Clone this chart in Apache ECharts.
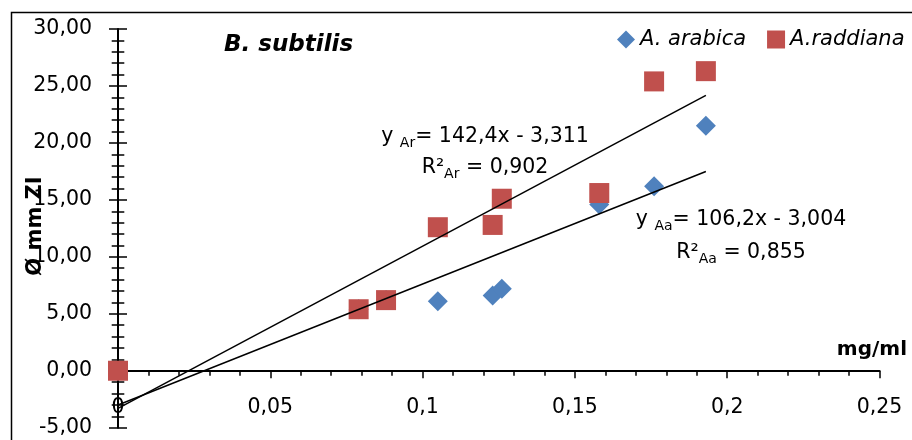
<!DOCTYPE html>
<html>
<head>
<meta charset="utf-8">
<script src="https://cdn.jsdelivr.net/npm/echarts@6/dist/echarts.min.js"></script>
<style>
  html, body { margin: 0; padding: 0; background: #fff; }
  #chart { width: 912px; height: 440px; }
</style>
</head>
<body>
<div id="chart"></div>
<script>
// Inhibition zone diameter (mm) against extract concentration (mg/ml)
const concentrations = [0, 0.079, 0.088, 0.105, 0.123, 0.126, 0.158, 0.176, 0.193];
const arabicaZones   = [0, 5.4, 6.2, 6.1, 6.6, 7.2, 14.6, 16.2, 21.5];
const raddianaZones  = [0, 5.4, 6.2, 12.6, 12.8, 15.1, 15.6, 25.4, 26.3];
const seriesNames    = ['A. arabica', 'A.raddiana'];

// Linear fits: A. arabica (Aa), A. raddiana (Ar)
const fitTags       = ['Aa', 'Ar'];
const fitSlopes     = [106.2, 142.4];
const fitIntercepts = [-3.004, -3.311];
const fitR2         = [0.855, 0.902];

const xTickLabels = ['0', '0,05', '0,1', '0,15', '0,2', '0,25'];
const yTickLabels = ['-5,00', '0,00', '5,00', '10,00', '15,00', '20,00', '25,00', '30,00'];

const FONT = 'DejaVu Sans';
const BLUE = '#4F81BD';
const RED = '#C0504D';

// Plot frame (px) and value ranges
const PLOT = { left: 118, right: 32.5, top: 29, bottom: 12.3 };
const X_RANGE = [0, 0.25];
const Y_RANGE = [-5, 30];
const CHART_H = 440;
// pixel row of y = 0, where the concentration axis sits
const zeroRow = PLOT.top + (Y_RANGE[1] / (Y_RANGE[1] - Y_RANGE[0])) * (CHART_H - PLOT.top - PLOT.bottom);

const num = v => String(v).replace('.', ',');

function fitLinePoints(i) {
  const x0 = Math.min(...concentrations);
  const x1 = Math.max(...concentrations);
  return [x0, x1].map(x => [x, fitSlopes[i] * x + fitIntercepts[i]]);
}
function equationText(i) {
  const b = fitIntercepts[i];
  const sign = b < 0 ? '-' : '+';
  return '{t|y }{s|' + fitTags[i] + '}{t|= ' + num(fitSlopes[i]) + 'x ' + sign + ' ' + num(Math.abs(b)) + '}';
}
function r2Text(i) {
  return '{t|R²}{s|' + fitTags[i] + '}{t| = ' + num(fitR2[i]) + '}';
}
const richStyles = {
  t: { fontSize: 20.5, lineHeight: 26, fontFamily: FONT, fill: '#000' },
  s: { fontSize: 14, lineHeight: 14, verticalAlign: 'bottom', fontFamily: FONT, fill: '#000' }
};
function annotation(text, x, y) {
  return {
    type: 'text', x: x, y: y, silent: true, z: 10,
    style: { text: text, rich: richStyles, align: 'center', verticalAlign: 'middle',
             textAlign: 'center', textVerticalAlign: 'middle', fill: '#000' }
  };
}

const tickLine = { color: '#000', width: 1.5 };

// Two overlaid axes per direction give ticks that cross the axis line
function xAxisDef(primary) {
  return {
    type: 'value', gridIndex: 0, min: X_RANGE[0], max: X_RANGE[1], interval: 0.05,
    splitLine: { show: false }, minorSplitLine: { show: false },
    axisLine: { show: primary, onZero: true, onZeroAxisIndex: primary ? 0 : 1,
                lineStyle: { color: '#000', width: 2 } },
    axisTick: { show: true, inside: !primary, length: 7.5, lineStyle: tickLine },
    minorTick: { show: true, splitNumber: 5, length: 5, lineStyle: tickLine },
    axisLabel: { show: false }
  };
}
function yAxisDef(primary) {
  return {
    type: 'value', gridIndex: 0, min: Y_RANGE[0], max: Y_RANGE[1], interval: 5, position: 'left',
    splitLine: { show: false }, minorSplitLine: { show: false },
    axisLine: { show: primary, onZero: true, onZeroAxisIndex: 0,
                lineStyle: { color: '#000', width: 2 } },
    axisTick: { show: true, inside: !primary, length: 9, lineStyle: tickLine },
    minorTick: { show: true, splitNumber: 5, length: 6.3, lineStyle: tickLine },
    axisLabel: primary ? {
      margin: 26, fontSize: 20.5, fontFamily: FONT, color: '#000',
      formatter: (v, i) => yTickLabels[i]
    } : { show: false }
  };
}
// Label-only axis whose grid ends at y = 0, so the tick labels sit under the zero line
const xLabelAxis = {
  type: 'value', gridIndex: 1, min: X_RANGE[0], max: X_RANGE[1], interval: 0.05,
  splitLine: { show: false },
  axisLine: { show: false, onZero: false },
  axisTick: { show: false },
  axisLabel: { margin: 26, fontSize: 20.5, fontFamily: FONT, color: '#000',
               formatter: (v, i) => xTickLabels[i] }
};

const chart = echarts.init(document.getElementById('chart'), null, { renderer: 'canvas' });
chart.setOption({
  animation: false,
  backgroundColor: '#fff',
  grid: [
    { left: PLOT.left, right: PLOT.right, top: PLOT.top, bottom: PLOT.bottom,
      containLabel: false, outerBoundsMode: 'none' },
    { left: PLOT.left, right: PLOT.right, top: PLOT.top, bottom: CHART_H - zeroRow,
      containLabel: false, outerBoundsMode: 'none' }
  ],
  xAxis: [xAxisDef(true), xAxisDef(false), xLabelAxis],
  yAxis: [yAxisDef(true), yAxisDef(false),
          { type: 'value', gridIndex: 1, show: false, min: 0, max: Y_RANGE[1] }],
  legend: {
    data: [{ name: seriesNames[0], icon: 'diamond' }, { name: seriesNames[1], icon: 'rect' }],
    left: 617, top: 29, padding: 0,
    itemWidth: 18, itemHeight: 18, itemGap: 21,
    textStyle: { fontFamily: FONT, fontStyle: 'italic', fontSize: 21, color: '#000' },
    selectedMode: false
  },
  series: [
    {
      name: seriesNames[0], type: 'scatter', symbol: 'diamond', symbolSize: 20, z: 2,
      itemStyle: { color: BLUE, opacity: 1 },
      emphasis: { disabled: true },
      data: concentrations.map((x, i) => [x, arabicaZones[i]])
    },
    {
      name: seriesNames[1], type: 'scatter', symbol: 'rect', symbolSize: 20, z: 3,
      itemStyle: { color: RED, opacity: 1 },
      emphasis: { disabled: true },
      data: concentrations.map((x, i) => [x, raddianaZones[i]])
    },
    {
      name: 'fit Aa', type: 'line', symbol: 'none', z: 4, silent: true,
      lineStyle: { color: '#000', width: 1.5 },
      data: fitLinePoints(0)
    },
    {
      name: 'fit Ar', type: 'line', symbol: 'none', z: 4, silent: true,
      lineStyle: { color: '#000', width: 1.5 },
      data: fitLinePoints(1)
    }
  ],
  graphic: [
    {
      type: 'rect', silent: true, z: 0,
      shape: { x: 11.5, y: 12.5, width: 1000, height: 1000 },
      style: { fill: 'none', stroke: '#000', lineWidth: 1.5 }
    },
    {
      type: 'text', x: 224, y: 45, silent: true, z: 10,
      style: { text: 'B. subtilis', font: 'italic bold 23px "DejaVu Sans"', fill: '#000',
               align: 'left', verticalAlign: 'middle', textAlign: 'left', textVerticalAlign: 'middle' }
    },
    {
      type: 'text', x: 907, y: 350, silent: true, z: 10,
      style: { text: 'mg/ml', font: 'bold 20px "DejaVu Sans"', fill: '#000',
               align: 'right', verticalAlign: 'middle', textAlign: 'right', textVerticalAlign: 'middle' }
    },
    {
      type: 'text', x: 35.5, y: 226, rotation: Math.PI / 2, silent: true, z: 10,
      style: { text: 'Ø mm ZI', font: 'bold 21px "DejaVu Sans"', fill: '#000',
               align: 'center', verticalAlign: 'middle', textAlign: 'center', textVerticalAlign: 'middle' }
    },
    annotation(equationText(1), 485, 137),
    annotation(r2Text(1), 485, 168),
    annotation(equationText(0), 741, 220),
    annotation(r2Text(0), 741, 253)
  ]
});
</script>
</body>
</html>
